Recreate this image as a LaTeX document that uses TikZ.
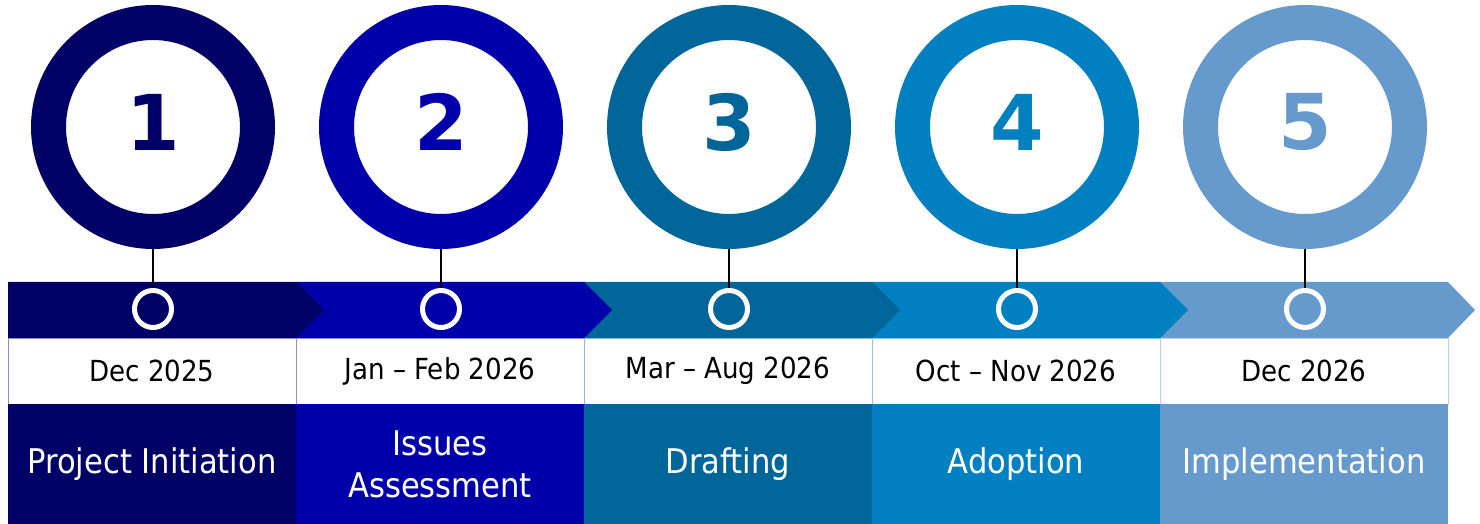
\documentclass[tikz,border=0pt]{standalone}
\usepackage{fontspec}
\setmainfont{DejaVu Sans Condensed}
\newfontfamily\numfont{DejaVu Sans}
\definecolor{phaseA}{HTML}{000066}
\definecolor{phaseB}{HTML}{0000AA}
\definecolor{phaseC}{HTML}{006699}
\definecolor{phaseD}{HTML}{0080C0}
\definecolor{phaseE}{HTML}{6699CC}

\begin{document}
\begin{tikzpicture}[x=0.5pt, y=-0.5pt,
        ring/.style={circle, draw=#1, line width=17.5pt, minimum size=104.5pt, inner sep=0pt},
        num/.style={text=#1, inner sep=0pt, font=\numfont\bfseries\fontsize{38.5}{40}\selectfont},
        dot/.style={circle, draw=white, line width=2.5pt, minimum size=18.5pt, inner sep=0pt},
        stem/.style={line width=1.25pt},
        datecell/.style={draw=#1!45, line width=0.4pt, fill=white, minimum width=144pt, minimum height=33pt, inner sep=0pt, font=\fontsize{14.5}{17}\selectfont},
        phase/.style={fill=#1, text=white, minimum width=144pt, minimum height=60pt, inner sep=0pt, align=center, font=\fontsize{17}{21}\selectfont}]
        \useasboundingbox (0,0) rectangle (1480,524);

        \fill[phaseE] (1160,282) -- (1448,282) -- (1475,310) -- (1448,338) -- (1160,338) -- cycle;
        \fill[phaseD] (872,282) -- (1160,282) -- (1188,310) -- (1160,338) -- (872,338) -- cycle;
        \fill[phaseC] (584,282) -- (872,282) -- (900,310) -- (872,338) -- (584,338) -- cycle;
        \fill[phaseB] (296,282) -- (584,282) -- (612,310) -- (584,338) -- (296,338) -- cycle;
        \fill[phaseA] (8,282) -- (296,282) -- (324,310) -- (296,338) -- (8,338) -- cycle;

        \node[datecell=phaseA] (date1) at (152,371) {Dec 2025};
        \node[datecell=phaseB] (date2) at (440,371) {Jan -- Feb 2026};
        \node[datecell=phaseC] (date3) at (728,371) {Mar -- Aug 2026};
        \node[datecell=phaseD] (date4) at (1016,371) {Oct -- Nov 2026};
        \node[datecell=phaseE] (date5) at (1304,371) {Dec 2026};

        \node[phase=phaseA] (phase1) at (152,464) {Project Initiation};
        \node[phase=phaseB] (phase2) at (440,464) {Issues\\Assessment};
        \node[phase=phaseC] (phase3) at (728,464) {Drafting};
        \node[phase=phaseD] (phase4) at (1016,464) {Adoption};
        \node[phase=phaseE] (phase5) at (1304,464) {Implementation};

        \node[ring=phaseA] (ring1) at (153,127) {};
        \node[ring=phaseB] (ring2) at (441,127) {};
        \node[ring=phaseC] (ring3) at (729,127) {};
        \node[ring=phaseD] (ring4) at (1017,127) {};
        \node[ring=phaseE] (ring5) at (1305,127) {};

        \node[num=phaseA] (num1) at (153,122) {1};
        \node[num=phaseB] (num2) at (441,122) {2};
        \node[num=phaseC] (num3) at (729,122) {3};
        \node[num=phaseD] (num4) at (1017,122) {4};
        \node[num=phaseE] (num5) at (1305,122) {5};

        \node[dot] (dot1) at (153,309) {};
        \node[dot] (dot2) at (441,309) {};
        \node[dot] (dot3) at (729,309) {};
        \node[dot] (dot4) at (1017,309) {};
        \node[dot] (dot5) at (1305,309) {};

        \draw[stem] (ring1) -- (dot1);
        \draw[stem] (ring2) -- (dot2);
        \draw[stem] (ring3) -- (dot3);
        \draw[stem] (ring4) -- (dot4);
        \draw[stem] (ring5) -- (dot5);
    \end{tikzpicture}
\end{document}
